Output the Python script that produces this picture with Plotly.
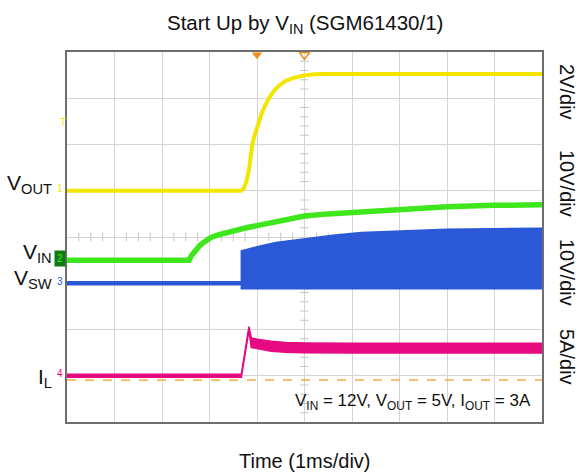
import plotly.graph_objects as go

# ---------------- data (time in ms relative to trigger, 1 ms/div) ----------------
T_MIN, T_MAX = -4, 6
N_DIV_X, N_DIV_Y = 10, 8

# VOUT (V), channel 1
t_vout = [-4.0, -0.33, -0.28, -0.22, -0.17, -0.13, -0.1, -0.05, 0.0, 0.05, 0.1, 0.15, 0.2, 0.25,
          0.35, 0.45, 0.6, 0.8, 1.0, 1.2, 1.4, 6.0]
vout = [0.0, 0.0, 0.1, 0.4, 0.9, 1.5, 2.0, 2.4, 2.75, 3.05, 3.35, 3.6, 3.82, 4.0,
        4.3, 4.52, 4.75, 4.9, 4.98, 5.04, 5.05, 5.05]

# VIN (V), channel 2
t_vin = [-4.0, -1.43, -1.38, -1.3, -1.2, -1.1, -0.97, -0.8, -0.6, -0.4, -0.2, 0.0, 0.25, 0.5,
         0.75, 1.0, 1.5, 2.0, 2.5, 3.0, 3.5, 4.0, 5.0, 6.0]
vin = [0.0, 0.0, 1.0, 2.1, 3.2, 4.0, 4.9, 5.5, 6.1, 6.65, 7.05, 7.45, 8.05, 8.6,
       9.15, 9.55, 10.0, 10.35, 10.75, 11.05, 11.35, 11.55, 11.85, 11.95]

# VSW (V) envelope, channel 3
t_vsw = [-4.0, -0.33, -0.33, 0.0, 0.4, 1.0, 1.6, 2.2, 3.0, 4.0, 5.0, 6.0]
vsw_hi = [0.3, 0.3, 7.0, 7.9, 8.8, 9.6, 10.4, 11.0, 11.35, 11.65, 11.8, 11.9]
vsw_lo = [-0.3, -0.3, -1.2, -1.2, -1.2, -1.2, -1.2, -1.2, -1.2, -1.2, -1.2, -1.2]

# IL (A) envelope, channel 4
t_il = [-4.0, -0.33, -0.17, -0.12, 0.0, 0.3, 0.6, 1.0, 2.0, 6.0]
il_hi = [0.15, 0.15, 5.3, 4.1, 3.95, 3.72, 3.6, 3.55, 3.52, 3.52]
il_lo = [-0.15, -0.15, 4.9, 3.05, 2.95, 2.65, 2.55, 2.5, 2.47, 2.47]

# trigger level on VOUT (V)
trig_level = 2.52

# ---------------- channel settings ----------------
# scale: units per division, offset: zero level in divisions from bottom
channels = [
    dict(name="VOUT", scale=2, offset=5.0, color="#f2e600", num="1", axis="y2"),
    dict(name="VIN", scale=10, offset=3.5, color="#3ee61c", num="2", axis="y3"),
    dict(name="VSW", scale=10, offset=3.0, color="#2a58d6", num="3", axis="y4"),
    dict(name="IL", scale=5, offset=1.0, color="#e6097f", num="4", axis="y5"),
]
ch = {c["name"]: c for c in channels}

FONT = "Liberation Sans, Arial, sans-serif"
GRID = "#d4d4d4"

fig = go.Figure()

# VSW band
c = ch["VSW"]
fig.add_trace(go.Scatter(x=t_vsw, y=vsw_lo, yaxis=c["axis"], mode="lines",
                         line=dict(color=c["color"], width=1.5), showlegend=False, hoverinfo="skip"))
fig.add_trace(go.Scatter(x=t_vsw, y=vsw_hi, yaxis=c["axis"], mode="lines", fill="tonexty",
                         fillcolor=c["color"], line=dict(color=c["color"], width=1.5),
                         showlegend=False, hoverinfo="skip"))
# VIN
c = ch["VIN"]
fig.add_trace(go.Scatter(x=t_vin, y=vin, yaxis=c["axis"], mode="lines",
                         line=dict(color=c["color"], width=5.5),
                         showlegend=False, hoverinfo="skip"))
# IL band
c = ch["IL"]
fig.add_trace(go.Scatter(x=t_il, y=il_lo, yaxis=c["axis"], mode="lines",
                         line=dict(color=c["color"], width=1.5), showlegend=False, hoverinfo="skip"))
fig.add_trace(go.Scatter(x=t_il, y=il_hi, yaxis=c["axis"], mode="lines", fill="tonexty",
                         fillcolor=c["color"], line=dict(color=c["color"], width=1.5),
                         showlegend=False, hoverinfo="skip"))
# VOUT
c = ch["VOUT"]
fig.add_trace(go.Scatter(x=t_vout, y=vout, yaxis=c["axis"], mode="lines",
                         line=dict(color=c["color"], width=4),
                         showlegend=False, hoverinfo="skip"))

# minor ticks on centre lines
xc, yc = 1, 4  # centre vertical line (time) and centre horizontal line (div)
xt = [T_MIN + k * 0.25 for k in range(N_DIV_X * 4 + 1) if k % 4]
yt = [k * 0.2 for k in range(N_DIV_Y * 5 + 1) if k % 5]
fig.add_trace(go.Scatter(x=xt, y=[yc] * len(xt), mode="markers",
                         marker=dict(symbol="line-ns", size=6, line=dict(color="#c4c4c4", width=1)),
                         showlegend=False, hoverinfo="skip"))
fig.add_trace(go.Scatter(x=[xc] * len(yt), y=yt, mode="markers",
                         marker=dict(symbol="line-ew", size=6, line=dict(color="#c4c4c4", width=1)),
                         showlegend=False, hoverinfo="skip"))

# trigger position markers at top
fig.add_trace(go.Scatter(x=[0], y=[7.94], mode="markers", cliponaxis=False,
                         marker=dict(symbol="triangle-down", size=9, color="#f08c1e"),
                         showlegend=False, hoverinfo="skip"))
fig.add_trace(go.Scatter(x=[1], y=[7.94], mode="markers", cliponaxis=False,
                         marker=dict(symbol="triangle-down-open", size=9, color="#f08c1e",
                                     line=dict(width=1.5)),
                         showlegend=False, hoverinfo="skip"))

# channel ground markers on left edge
for c in channels:
    fig.add_trace(go.Scatter(x=[T_MIN - 0.06], y=[0], yaxis=c["axis"], mode="markers", cliponaxis=False,
                             marker=dict(symbol="triangle-right", size=7, color=c["color"]),
                             showlegend=False, hoverinfo="skip"))
# trigger level marker
fig.add_trace(go.Scatter(x=[T_MIN - 0.06], y=[trig_level], yaxis="y2", mode="markers", cliponaxis=False,
                         marker=dict(symbol="triangle-right", size=7, color=ch["VOUT"]["color"]),
                         showlegend=False, hoverinfo="skip"))

layout = dict(
    width=579, height=475,
    margin=dict(l=67, r=37, t=52, b=53),
    paper_bgcolor="white", plot_bgcolor="white",
    font=dict(family=FONT, color="#111111"),
    xaxis=dict(range=[T_MIN, T_MAX], dtick=1, tick0=T_MIN, showgrid=True, gridcolor=GRID, gridwidth=1,
               showticklabels=False, ticks="", zeroline=False, showline=True, mirror=True,
               linecolor="#6e6e6e", linewidth=1.5, fixedrange=True),
    yaxis=dict(range=[0, N_DIV_Y], dtick=1, showgrid=True, gridcolor=GRID, gridwidth=1,
               showticklabels=False, ticks="", zeroline=False, showline=True, mirror=True,
               linecolor="#6e6e6e", linewidth=1.5, fixedrange=True),
    showlegend=False,
)
for c in channels:
    key = "yaxis" + c["axis"][1:]
    layout[key] = dict(range=[-c["offset"] * c["scale"], (N_DIV_Y - c["offset"]) * c["scale"]],
                       overlaying="y", visible=False, fixedrange=True)
fig.update_layout(**layout)

# orange dashed reference line
fig.add_shape(type="line", xref="paper", x0=0, x1=1, yref="y", y0=0.91, y1=0.91,
              line=dict(color="#f7a94a", width=1.5, dash="dash"))

ann = []
# title
ann.append(dict(text="Start Up by V<sub>IN</sub> (SGM61430/1)", xref="paper", yref="paper",
                x=0.5, y=1 + (52 - 24) / 370, xanchor="center", yanchor="middle",
                showarrow=False, font=dict(size=20.5, family=FONT, color="#111111")))
# x title
ann.append(dict(text="Time (1ms/div)", xref="paper", yref="paper", x=0.5, y=-(461 - 422) / 370,
                xanchor="center", yanchor="middle", showarrow=False,
                font=dict(size=20, family=FONT, color="#111111")))
# right scale labels
for txt, ypx in [("2V/div", 92), ("10V/div", 183), ("10V/div", 272), ("5A/div", 357)]:
    ann.append(dict(text=txt, xref="paper", yref="paper", x=(567 - 67) / 475, y=(422 - ypx) / 370,
                    xanchor="center", yanchor="middle", textangle=90, showarrow=False,
                    font=dict(size=20, family=FONT, color="#111111")))
# left channel labels
left = [("VOUT", "V<sub>OUT</sub>", 7), ("VIN", "V<sub>IN</sub>", 7), ("VSW", "V<sub>SW</sub>", 4),
        ("IL", "I<sub>L</sub>", -2)]
for name, txt, ys in left:
    c = ch[name]
    ann.append(dict(text=txt, xref="paper", yref=c["axis"], x=(54 - 67) / 475, y=0, yshift=ys,
                    xanchor="right", yanchor="middle", showarrow=False,
                    font=dict(size=21, family=FONT, color="#111111")))
    ann.append(dict(text=c["num"], xref="paper", yref=c["axis"], x=(60 - 67) / 475, y=0, yshift=2,
                    xanchor="center", yanchor="middle", showarrow=False,
                    bgcolor="#0f7a12" if name == "VIN" else None,
                    borderpad=2 if name == "VIN" else 1,
                    font=dict(size=10, family=FONT, color=c["color"])))
ann.append(dict(text="T", xref="paper", yref="y2", x=(63 - 67) / 475, y=trig_level, yshift=10,
                xanchor="center", yanchor="middle", showarrow=False,
                font=dict(size=10, family=FONT, color=ch["VOUT"]["color"])))
# conditions
ann.append(dict(text="V<sub>IN</sub> = 12V, V<sub>OUT</sub> = 5V, I<sub>OUT</sub> = 3A",
                xref="paper", yref="paper", x=(533 - 67) / 475, y=(422 - 402) / 370,
                xanchor="right", yanchor="middle", showarrow=False,
                font=dict(size=17, family=FONT, color="#111111")))
fig.update_layout(annotations=ann)

fig.write_html("out.html", config={"displayModeBar": False},
               post_script="document.body.style.margin='0px';")
